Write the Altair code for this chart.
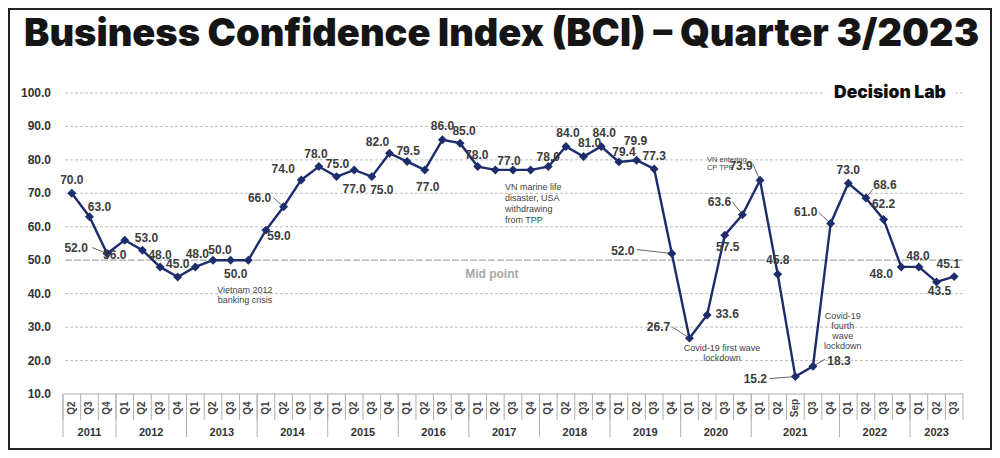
import altair as alt
import pandas as pd

# ---------------- data ----------------
years = ["2011", "2012", "2013", "2014", "2015", "2016", "2017",
         "2018", "2019", "2020", "2021", "2022", "2023"]
quarters_by_year = [
    ["Q2", "Q3", "Q4"],
    ["Q1", "Q2", "Q3", "Q4"],
    ["Q1", "Q2", "Q3", "Q4"],
    ["Q1", "Q2", "Q3", "Q4"],
    ["Q1", "Q2", "Q3", "Q4"],
    ["Q1", "Q2", "Q3", "Q4"],
    ["Q1", "Q2", "Q3", "Q4"],
    ["Q1", "Q2", "Q3", "Q4"],
    ["Q1", "Q2", "Q3", "Q4"],
    ["Q1", "Q2", "Q3", "Q4"],
    ["Q1", "Q2", "Sep", "Q3", "Q4"],
    ["Q1", "Q2", "Q3", "Q4"],
    ["Q1", "Q2", "Q3"],
]
bci = [70.0, 63.0, 52.0,
       56.0, 53.0, 48.0, 45.0,
       48.0, 50.0, 50.0, 50.0,
       59.0, 66.0, 74.0, 78.0,
       75.0, 77.0, 75.0, 82.0,
       79.5, 77.0, 86.0, 85.0,
       78.0, 77.0, 77.0, 77.0,
       78.0, 84.0, 81.0, 84.0,
       79.4, 79.9, 77.3, 52.0,
       26.7, 33.6, 57.5, 63.6,
       73.9, 45.8, 15.2, 18.3, 61.0,
       73.0, 68.6, 62.2, 48.0,
       48.0, 43.5, 45.1]
unlabelled = [10, 24, 26]
y_ticks = [10, 20, 30, 40, 50, 60, 70, 80, 90, 100]
grid_values = [20, 30, 40, 60, 70, 80, 90, 100]
mid_point = 50

annotations = [
    "Vietnam 2012\nbanking crisis",
    "VN marine life\ndisaster, USA\nwithdrawing\nfrom TPP",
    "Covid-19 first wave\nlockdown",
    "Covid-19\nfourth\nwave\nlockdown",
    "VN entering\nCP TPP",
]
title_text = "Business Confidence Index (BCI) \u2013 Quarter 3/2023"
brand_text = "Decision Lab"
mid_text = "Mid point"

# ---------------- styling (label placement in pixels) ----------------
label_offsets = {
    0: (0, -13), 1: (10, -10), 2: (-31, -6), 3: (-10, 15), 4: (4, -12),
    5: (0, -12), 6: (0, -13), 7: (2, -13), 8: (7, -10), 9: (5, 14),
    11: (13, 6), 12: (-24, -9), 13: (-18, -11), 14: (-3, -13), 15: (1, -13),
    16: (0, 19), 17: (10, 13), 18: (-12, -11), 19: (1, -11), 20: (3, 17),
    21: (0, -14), 22: (4, -12), 23: (-1, -12), 25: (-4, -9), 27: (0, -10),
    28: (2, -14), 29: (6, -14), 30: (3, -14), 31: (5, -10), 32: (-1, -19),
    33: (0, -13), 34: (-49, -3), 35: (-31, -11), 36: (20, -1), 37: (3, 12),
    38: (-23, -13), 39: (-19, -14), 40: (0, -14), 41: (-40, 2), 42: (26, -5),
    43: (-25, -11), 44: (0, -13), 45: (19, -13), 46: (0, -15), 47: (-20, 7),
    48: (-1, -11), 49: (3, 9), 50: (-6, -13),
}
leader_starts = {
    2: (-15, -6), 12: (-10, -9), 34: (-35, -4), 35: (-17, -11),
    38: (-10, -13), 39: (-7, -16), 41: (-26, 2), 42: (12, -7),
    43: (-12, -11), 45: (7, -9),
}
# annotation anchor of the first line (x index, y value), alignment, font size, line height
annotation_places = [
    (9.81, 41.1, "center", 9, 10),
    (24.54, 71.9, "left", 9, 11),
    (36.84, 23.7, "center", 9, 10),
    (43.69, 33.3, "center", 9, 10),
    (35.99, 80.0, "left", 7.5, 8),
]

W, H = 900, 301
NAVY = "#1d2d6b"
LABEL_FONT = "Liberation Sans"

# ---------------- tables ----------------
rows = []
i = 0
for y, qs in zip(years, quarters_by_year):
    for q in qs:
        rows.append({"i": i, "year": y, "quarter": q, "bci": bci[i]})
        i += 1
df = pd.DataFrame(rows)
df["label"] = [("" if k in unlabelled else f"{v:.1f}") for k, v in enumerate(bci)]
df["dx"] = [label_offsets.get(k, (0, 0))[0] for k in range(len(bci))]
df["dy"] = [label_offsets.get(k, (0, 0))[1] for k in range(len(bci))]

lead = pd.DataFrame([
    {"i": k, "bci": bci[k], "lx": s[0], "ly": s[1]} for k, s in leader_starts.items()
])

year_rows, sep_rows = [], []
start = 0
for y, qs in zip(years, quarters_by_year):
    n = len(qs)
    year_rows.append({"year": y, "mid": start + (n - 1) / 2})
    for j in range(n):
        sep_rows.append({"b": start + j - 0.5, "len": 43 if j == 0 else 26})
    start += n
sep_rows.append({"b": start - 0.5, "len": 26})
years_df = pd.DataFrame(year_rows)
sep_df = pd.DataFrame(sep_rows)

ann_df = pd.DataFrame([
    {"text": t, "x": p[0], "y": p[1], "align": p[2], "size": p[3], "lh": p[4]}
    for t, p in zip(annotations, annotation_places)
])

xscale = alt.Scale(domain=[-0.5, len(bci) - 0.5], nice=False, zero=False)
yscale = alt.Scale(domain=[10, 100], nice=False, zero=False)

base = alt.Chart(df)

grid = alt.Chart(pd.DataFrame({"g": grid_values})).mark_rule(
    color="#bdbdbd", strokeWidth=1, strokeDash=[3, 2]
).encode(y=alt.Y("g:Q", scale=yscale, axis=None))

mid = alt.Chart(pd.DataFrame({"g": [mid_point]})).mark_rule(
    color="#a9a9a9", strokeWidth=1.2, strokeDash=[7, 2]
).encode(y=alt.Y("g:Q", scale=yscale, axis=None))

axis_line = alt.Chart(pd.DataFrame({"g": [y_ticks[0]]})).mark_rule(
    color="#aaaaaa", strokeWidth=1.2
).encode(y=alt.Y("g:Q", scale=yscale, axis=None))

ytick_labels = alt.Chart(pd.DataFrame({"g": y_ticks})).mark_text(
    font=LABEL_FONT, fontWeight="bold", fontSize=12, color="#333333",
    align="right", baseline="middle"
).encode(
    x=alt.value(-12),
    y=alt.Y("g:Q", scale=yscale, axis=None),
    text=alt.Text("g:Q", format=".1f"),
)

brand_bg = alt.Chart(pd.DataFrame({"a": [42.7], "b": [49.9], "c": [98.5], "d": [101.5]})).mark_rect(
    color="white"
).encode(
    x=alt.X("a:Q", scale=xscale, axis=None), x2="b:Q",
    y=alt.Y("c:Q", scale=yscale, axis=None), y2="d:Q",
)
brand = alt.Chart(pd.DataFrame({"t": [brand_text], "x": [46.36], "y": [100]})).mark_text(
    font="Inter", fontWeight=900, fontSize=17.5, color="#111111", align="center", baseline="middle"
).encode(x=alt.X("x:Q", scale=xscale, axis=None), y=alt.Y("y:Q", scale=yscale, axis=None), text="t:N")

mid_label = alt.Chart(pd.DataFrame({"t": [mid_text], "x": [23.8], "y": [45.8]})).mark_text(
    font=LABEL_FONT, fontWeight="bold", fontSize=12, color="#a8a8a8", align="center", baseline="middle"
).encode(x=alt.X("x:Q", scale=xscale, axis=None), y=alt.Y("y:Q", scale=yscale, axis=None), text="t:N")

seps = alt.Chart(sep_df).mark_rule(color="#b0b0b0", strokeWidth=1).encode(
    x=alt.X("b:Q", scale=xscale, axis=None),
    y=alt.value(H),
    y2=alt.value(H + 26),
)
year_seps = alt.Chart(sep_df).transform_filter("datum.len > 30").mark_rule(
    color="#b0b0b0", strokeWidth=1
).encode(
    x=alt.X("b:Q", scale=xscale, axis=None),
    y=alt.value(H),
    y2=alt.value(H + 43),
)

q_labels = base.mark_text(
    font=LABEL_FONT, fontWeight="bold", fontSize=10, color="#444444",
    angle=270, align="center", baseline="middle"
).encode(x=alt.X("i:Q", scale=xscale, axis=None), y=alt.value(H + 14), text="quarter:N")

y_labels = alt.Chart(years_df).mark_text(
    font=LABEL_FONT, fontWeight="bold", fontSize=11, color="#333333",
    align="center", baseline="middle"
).encode(x=alt.X("mid:Q", scale=xscale, axis=None), y=alt.value(H + 39), text="year:N")

line = base.mark_line(color=NAVY, strokeWidth=2.4).encode(
    x=alt.X("i:Q", scale=xscale, axis=None),
    y=alt.Y("bci:Q", scale=yscale, axis=None),
)
points = base.mark_point(shape="diamond", filled=True, size=80, color=NAVY, opacity=1).encode(
    x=alt.X("i:Q", scale=xscale, axis=None),
    y=alt.Y("bci:Q", scale=yscale, axis=None),
)

leaders = alt.Chart(lead).mark_rule(
    color="#666666", strokeWidth=1,
    x2Offset=alt.ExprRef(expr="datum.lx"), y2Offset=alt.ExprRef(expr="datum.ly"),
).encode(
    x=alt.X("i:Q", scale=xscale, axis=None), x2="i:Q",
    y=alt.Y("bci:Q", scale=yscale, axis=None), y2="bci:Q",
)

labels = base.mark_text(
    font=LABEL_FONT, fontWeight="bold", fontSize=12, color="#3c3c3c",
    align="center", baseline="middle",
    dx=alt.ExprRef(expr="datum.dx"), dy=alt.ExprRef(expr="datum.dy"),
).encode(
    x=alt.X("i:Q", scale=xscale, axis=None),
    y=alt.Y("bci:Q", scale=yscale, axis=None),
    text="label:N",
)

ann_layers = []
for _, r in ann_df.iterrows():
    ann_layers.append(
        alt.Chart(pd.DataFrame([r])).mark_text(
            font=LABEL_FONT, fontSize=float(r["size"]), color="#444444",
            align=r["align"], baseline="middle", lineBreak="\n",
            lineHeight=float(r["lh"]),
        ).encode(
            x=alt.X("x:Q", scale=xscale, axis=None),
            y=alt.Y("y:Q", scale=yscale, axis=None),
            text="text:N",
        )
    )

title = alt.Chart(pd.DataFrame({"t": [title_text]})).mark_text(
    font="Inter", fontWeight=900, fontSize=38, color="#151515", align="left", baseline="alphabetic"
).encode(x=alt.value(-39), y=alt.value(-47), text="t:N")

frame = alt.Chart(pd.DataFrame({"a": [0]})).mark_rect(
    fillOpacity=0, stroke="#222222", strokeWidth=2
).encode(x=alt.value(-54), x2=alt.value(W + 28), y=alt.value(-84), y2=alt.value(H + 55))

chart = alt.layer(
    grid, mid, axis_line, ytick_labels, brand_bg, brand, mid_label, seps, year_seps,
    q_labels, y_labels, leaders, line, points, labels, *ann_layers, title, frame,
).properties(
    width=W, height=H,
    autosize=alt.AutoSizeParams(type="none"),
    padding={"left": 55, "top": 85, "right": 29, "bottom": 56},
).configure_view(stroke=None)

chart.save("out.html", embed_options={"renderer": "svg", "actions": False})
